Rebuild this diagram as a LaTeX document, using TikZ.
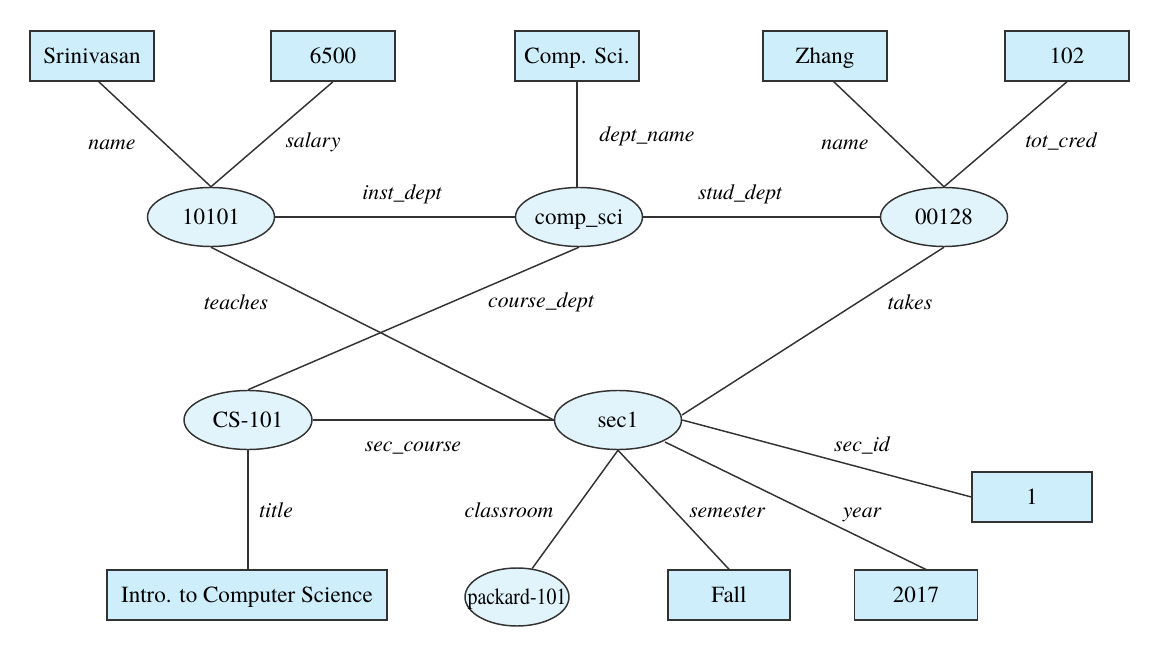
\documentclass[tikz,border=0pt]{standalone}
\usepackage{graphicx}
\usepackage{fontspec}
\setmainfont{texgyretermes}[Extension=.otf, UprightFont=*-regular, ItalicFont=*-italic, BoldFont=*-bold, BoldItalicFont=*-bolditalic]
\usetikzlibrary{shapes.geometric}
\definecolor{boxfill}{HTML}{CDEEFA}
\definecolor{ellfill}{HTML}{E2F4FB}
\definecolor{edge}{HTML}{333333}
\tikzset{
  valbox/.style={draw=edge, line width=1.1pt, fill=boxfill, rectangle, minimum width=124*0.75pt, minimum height=50*0.75pt, inner sep=0pt, text height=11.2pt, text depth=0pt, font=\rmfamily\fontsize{17.3}{18}\selectfont},
  ent/.style={draw=edge, line width=1.1pt, fill=ellfill, ellipse, minimum width=127*0.75pt, minimum height=59*0.75pt, inner sep=0pt, text height=11.2pt, text depth=0pt, font=\rmfamily\fontsize{17.3}{18}\selectfont},
  lab/.style={font=\rmfamily\fontsize{16.3}{18}\selectfont\itshape, inner sep=0pt, text height=11pt, text depth=3.5pt},
  conn/.style={draw=edge, line width=1.1pt}
}
\begin{document}
\begin{tikzpicture}[x=0.75pt,y=-0.75pt]
\useasboundingbox (0,0) rectangle (1160,659);
% boxes
\node[valbox] (srini) at (92,56) {Srinivasan};
\node[valbox] (sal) at (333,56) {6500};
\node[valbox] (csci) at (577,56) {Comp. Sci.};
\node[valbox] (zhang) at (825,56) {Zhang};
\node[valbox] (cred) at (1067,56) {102};
\node[valbox, minimum width=280*0.75pt] (intro) at (247,595) {Intro. to Computer Science};
\node[valbox, minimum width=122*0.75pt] (fall) at (729,595) {Fall};
\node[valbox, minimum width=123*0.75pt] (yr) at (916,595) {2017};
\node[valbox, minimum width=120*0.75pt] (one) at (1032,497) {1};
% entities
\node[ent] (i10101) at (211,217) {10101};
\node[ent] (compsci) at (579,217) {comp\_sci};
\node[ent] (s00128) at (944,217) {00128};
\node[ent, minimum width=128*0.75pt] (cs101) at (248,420) {CS-101};
\node[ent] (sec1) at (618,420) {sec1};
\node[ent, minimum width=104*0.75pt, minimum height=58*0.75pt] (pack) at (517,597) {\makebox[45pt]{\scalebox{0.86}[1]{packard-101}}};
% coordinates on outlines
\coordinate (yrtop) at (927,570);
\coordinate (sec1yr) at (665,442);
\coordinate (sec1tk) at (682,415);
\coordinate (srb) at (98,81);
\coordinate (zhb) at (833,81);
% connectors
\draw[conn] (srb) -- (i10101.north);
\draw[conn] (sal.south) -- (i10101.north);
\draw[conn] (csci.south) -- (csci.south |- compsci.north);
\draw[conn] (zhb) -- (s00128.north);
\draw[conn] (cred.south) -- (s00128.north);
\draw[conn] (i10101.east) -- (compsci.west);
\draw[conn] (compsci.east) -- (s00128.west);
\draw[conn] (i10101.south) -- (sec1.west);
\draw[conn] (compsci.south) -- (cs101.north);
\draw[conn] (s00128.south) -- (sec1tk);
\draw[conn] (cs101.east) -- (sec1.west);
\draw[conn] (cs101.south) -- (cs101.south |- intro.north);
\draw[conn] (sec1.south) -- (pack.62);
\draw[conn] (sec1.south) -- (fall.north);
\draw[conn] (sec1yr) -- (yrtop);
\draw[conn] (sec1.east) -- (one.west);
% labels
\node[lab] (l1) at (112,145) {name};
\node[lab] (l2) at (313,143) {salary};
\node[lab] (l3) at (402,195) {inst\_dept};
\node[lab] (l4) at (647,137) {dept\_name};
\node[lab] (l5) at (740,195) {stud\_dept};
\node[lab] (l6) at (845,145) {name};
\node[lab] (l7) at (1061,143) {tot\_cred};
\node[lab] (l8) at (236,305) {teaches};
\node[lab] (l9) at (541,303) {course\_dept};
\node[lab] (l10) at (910,305) {takes};
\node[lab] (l11) at (413,446) {sec\_course};
\node[lab] (l12) at (862,446) {sec\_id};
\node[lab] (l13) at (276,512) {title};
\node[lab] (l14) at (509,512) {classroom};
\node[lab] (l15) at (727,512) {semester};
\node[lab] (l16) at (862,512) {year};
\end{tikzpicture}
\end{document}
